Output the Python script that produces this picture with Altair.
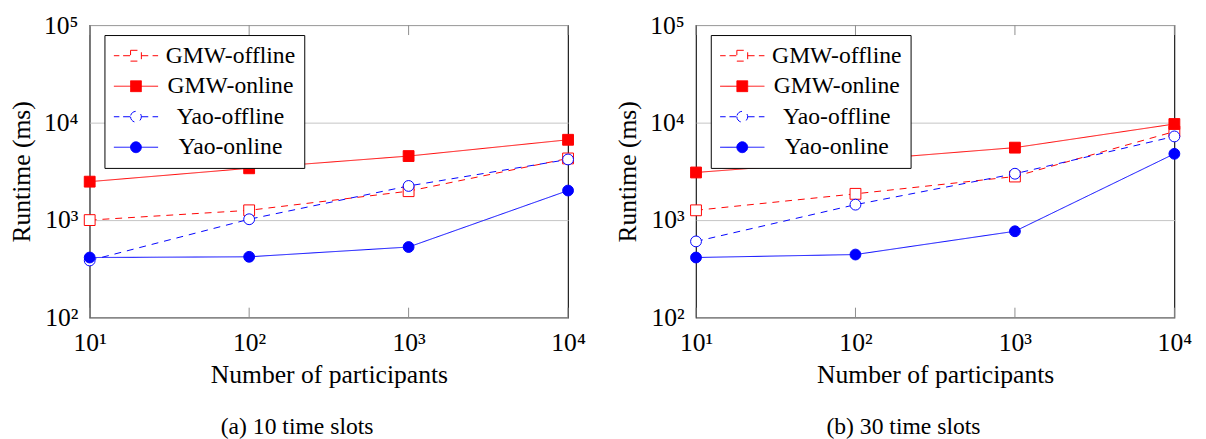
import altair as alt
import pandas as pd

FONT = "Liberation Serif"

participants = [10, 100, 1000, 10000]
series_names = ["GMW-offline", "GMW-online", "Yao-offline", "Yao-online"]
y_ticks = [100, 1000, 10000, 100000]

# (a) 10 time slots
a_gmw_offline = [1000, 1260, 1980, 4290]
a_gmw_online = [2480, 3400, 4540, 6670]
a_yao_offline = [385, 1020, 2240, 4190]
a_yao_online = [413, 420, 529, 2010]

# (b) 30 time slots
b_gmw_offline = [1260, 1860, 2800, 8100]
b_gmw_online = [3080, 4100, 5540, 9680]
b_yao_offline = [604, 1440, 2990, 7220]
b_yao_online = [413, 443, 768, 4790]

stroke_range = ["#ff0000", "#ff0000", "#0000ff", "#0000ff"]
fill_range = ["#ffffff", "#ff0000", "#ffffff", "#0000ff"]
dash_range = [[7, 6], [1, 0], [7, 6], [1, 0]]

dl = "M-1,0H-0.75M-0.58,0H-0.244"
dr = "M0.244,0H0.58M0.75,0H1"
sq = "M-0.244,-0.244H0.244V0.244H-0.244Z"
ci = "M-0.244,0A0.244,0.244 0 1,0 0.244,0A0.244,0.244 0 1,0 -0.244,0Z"
legend_paths = [
    dl + sq + dr,
    "M-1,0H1" + sq,
    dl + ci + dr,
    "M-1,0H1" + ci,
]

label_expr = "'10' + ['\u2070','\u00b9','\u00b2','\u00b3','\u2074','\u2075'][round(log(datum.value)/LN10)]"

PW, PH = 486, 297


def long_df(groups):
    rows = []
    for name, vals in zip(series_names, groups):
        for x, y in zip(participants, vals):
            rows.append({"x": x, "y": y, "series": name})
    return pd.DataFrame(rows)


def panel(df, caption):
    stroke_scale = alt.Scale(domain=series_names, range=stroke_range)
    fill_scale = alt.Scale(domain=series_names, range=fill_range)
    xs = alt.Scale(type="log", domain=[10, 10000], nice=False)
    ys = alt.Scale(type="log", domain=[100, 100000], nice=False)

    leg = alt.Legend(
        title=None, orient="none", legendX=15, legendY=10, direction="vertical",
        labelFont=FONT, labelFontSize=24, labelColor="black",
        labelAlign="center", labelOffset=73, labelLimit=400,
        symbolSize=2025, symbolStrokeWidth=1, symbolOpacity=1,
        clipHeight=24, rowPadding=7, padding=9,
        strokeColor="black", fillColor="white", cornerRadius=0,
    )

    base = alt.Chart(df)

    legend_layer = base.transform_filter("datum.x < 0").mark_point(
        filled=True, size=2025, strokeWidth=1, opacity=1
    ).encode(
        x=alt.X("x:Q", scale=xs),
        y=alt.Y("y:Q", scale=ys),
        shape=alt.Shape("series:N", scale=alt.Scale(domain=series_names, range=legend_paths), legend=leg),
        stroke=alt.Stroke("series:N", scale=stroke_scale, legend=leg),
        fill=alt.Fill("series:N", scale=fill_scale, legend=leg),
    )

    lines = base.mark_line(strokeWidth=1).encode(
        x=alt.X("x:Q", scale=xs, axis=alt.Axis(
            orient="bottom", values=participants, labelExpr=label_expr,
            ticks=False, domain=False, grid=False,
            labelFont=FONT, labelFontSize=26, labelColor="black", labelPadding=13,
            labelFlush=False, labelOverlap=False,
            title="Number of participants", titleFont=FONT, titleFontSize=26,
            titleFontWeight="normal", titleColor="black", titlePadding=6)),
        y=alt.Y("y:Q", scale=ys, axis=alt.Axis(
            values=y_ticks, labelExpr=label_expr, grid=True, gridColor="#c4c4c4",
            gridWidth=1, ticks=False, domain=False,
            labelFont=FONT, labelFontSize=26, labelColor="black", labelPadding=12,
            labelFlush=False, labelOverlap=False,
            title="Runtime (ms)", titleFont=FONT, titleFontSize=26,
            titleFontWeight="normal", titleColor="black", titlePadding=9)),
        stroke=alt.Stroke("series:N", scale=stroke_scale, legend=None),
        strokeDash=alt.StrokeDash("series:N", scale=alt.Scale(domain=series_names, range=dash_range), legend=None),
    )

    tick_df = pd.DataFrame({"t": participants})
    top_ticks = alt.Chart(tick_df).mark_rule(color="#8c8c8c", strokeWidth=1).encode(
        x=alt.X("t:Q", scale=xs), y=alt.value(0), y2=alt.value(10))
    bottom_ticks = alt.Chart(tick_df).mark_rule(color="#8c8c8c", strokeWidth=1).encode(
        x=alt.X("t:Q", scale=xs), y=alt.value(PH - 10), y2=alt.value(PH))

    squares = base.transform_filter("indexof(datum.series, 'GMW') == 0").mark_point(
        shape="square", filled=True, size=121, strokeWidth=1, opacity=1
    ).encode(
        x=alt.X("x:Q", scale=xs),
        y=alt.Y("y:Q", scale=ys),
        stroke=alt.Stroke("series:N", scale=stroke_scale, legend=None),
        fill=alt.Fill("series:N", scale=fill_scale, legend=None),
    )

    circles = base.transform_filter("indexof(datum.series, 'Yao') == 0").mark_point(
        shape="circle", filled=True, size=121, strokeWidth=1, opacity=1
    ).encode(
        x=alt.X("x:Q", scale=xs),
        y=alt.Y("y:Q", scale=ys),
        stroke=alt.Stroke("series:N", scale=stroke_scale, legend=None),
        fill=alt.Fill("series:N", scale=fill_scale, legend=None),
    )

    return alt.layer(legend_layer, lines, top_ticks, bottom_ticks, squares, circles).properties(
        width=PW, height=PH,
        title=alt.TitleParams(
            text=caption, orient="bottom", anchor="middle", frame="bounds",
            font=FONT, fontSize=24, fontWeight="normal", color="black", offset=28),
    )


left = panel(long_df([a_gmw_offline, a_gmw_online, a_yao_offline, a_yao_online]), "(a) 10 time slots")
right = panel(long_df([b_gmw_offline, b_gmw_online, b_yao_offline, b_yao_online]), "(b) 30 time slots")

chart = alt.hconcat(left, right, spacing=28).resolve_scale(
    stroke="independent", fill="independent", shape="independent", strokeDash="independent"
).resolve_legend(
    stroke="independent", fill="independent", shape="independent"
).properties(
    padding={"left": 0, "top": 0, "right": 5, "bottom": 0}
).configure(
    background="white"
).configure_view(
    stroke="#1a1a1a", strokeWidth=1.2
)

chart.save("out.html", embed_options={"renderer": "svg", "actions": False})
